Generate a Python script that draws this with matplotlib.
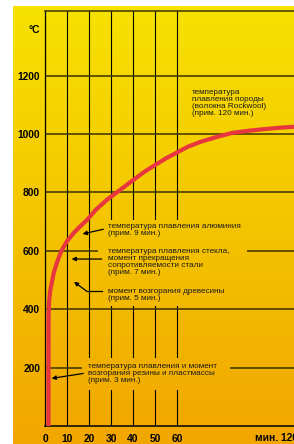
import numpy as np
import matplotlib
matplotlib.use('Agg')
import matplotlib.pyplot as plt
from matplotlib.patches import Rectangle
import matplotlib.transforms as mtransforms

# ---- data ----
time_min = [1.6, 1.6, 1.65, 1.9, 2.4, 3.0, 4.0, 5.3, 6.5, 7.6, 10, 12.9, 16, 19,
            23, 28, 34, 40, 45, 50, 55, 60.5, 65, 70.5, 78, 85, 93, 101, 107, 113, 120]
temp_c = [0, 200, 380, 430, 465, 488, 525, 557, 582, 602, 633, 660, 684, 705,
          740, 774, 808, 842, 870, 894, 917, 939, 957, 973, 990, 1004, 1012, 1018,
          1022, 1025, 1028]

x_ticks = [0, 10, 20, 30, 40, 50, 60]
x_tick_labels = ['0', '10', '20', '30', '40', '50', '60']
y_ticks = [200, 400, 600, 800, 1000, 1200]
y_tick_labels = ['200', '400', '600', '800', '1000', '1200']
y_unit = '°C'
x_unit = 'мин. 120'

notes = [
    'температура\nплавления породы\n(волокна Rockwool)\n(прим. 120 мин.)',
    'температура плавления алюминия\n(прим. 9 мин.)',
    'температура плавления стекла,\nмомент прекращения\nсопротивляемости стали\n(прим. 7 мин.)',
    'момент возгорания древесины\n(прим. 5 мин.)',
    'температура плавления и момент\nвозгорания резины и пластмассы\n(прим. 3 мин.)',
]
note_pos = [(66.7, 1153), (28.6, 697), (28.6, 611), (28.6, 474), (19.5, 217)]

# ---- figure ----
W, H, DPI = 294, 444, 100
fig = plt.figure(figsize=(W / DPI, H / DPI), dpi=DPI)
fig.patch.set_facecolor('white')

top_col = np.array([247, 226, 0]) / 255
bot_col = np.array([241, 166, 0]) / 255
grad_top_px, grad_bot_px = 7, 444

def grad_colors(py):
    f = np.clip((py - grad_top_px) / (grad_bot_px - grad_top_px), 0, 1)[:, None]
    return top_col[None, :] * (1 - f) + bot_col[None, :] * f

# background
bg = fig.add_axes([0, 0, 1, 1], zorder=-1)
bg.set_xlim(0, W)
bg.set_ylim(H, 0)
bg.axis('off')
py = np.arange(grad_top_px, grad_bot_px) + 0.5
img = grad_colors(py)[:, None, :]
bg.imshow(img, extent=(13, W, grad_bot_px, grad_top_px), aspect='auto',
          interpolation='bilinear')

# main axes
ax_left_px, ax_top_px, ax_bot_px = 45, 11, 426
px_per_min = 2.2
x_max = (W - ax_left_px) / px_per_min
px_per_deg = 0.2919
y_max = (ax_bot_px - ax_top_px) / px_per_deg
ax = fig.add_axes([ax_left_px / W, (H - ax_bot_px) / H,
                   1 - ax_left_px / W, (ax_bot_px - ax_top_px) / H])
ax.set_facecolor('none')
ax.set_xlim(0, x_max)
ax.set_ylim(0, y_max)

ax.set_xticks(x_ticks)
ax.set_xticklabels(x_tick_labels)
ax.set_yticks(y_ticks)
ax.set_yticklabels(y_tick_labels)
ax.tick_params(length=0, labelsize=7.4, pad=3.6)
for lab in ax.get_xticklabels() + ax.get_yticklabels():
    lab.set_fontweight('bold')
    lab.set_family('Liberation Sans')
ax.tick_params(axis='x', pad=5.5)

ax.set_axisbelow(True)
ax.xaxis.grid(True, color='black', lw=0.8)
ax.yaxis.grid(True, color='#3c3100', lw=1.1)

ax.spines['right'].set_visible(False)
ax.spines['left'].set_color('black')
ax.spines['left'].set_linewidth(0.9)
ax.spines['bottom'].set_color('black')
ax.spines['bottom'].set_linewidth(1.1)
ax.spines['top'].set_color('#3c3100')
ax.spines['top'].set_linewidth(1.1)

# masks that clear the grid behind the annotation blocks
mask_py = np.arange(ax_top_px, ax_bot_px) + 0.5
mask_img = grad_colors(mask_py)[:, None, :]
def px2data(x, y):
    return (x - ax_left_px) / px_per_min, (ax_bot_px - y) / px_per_deg
for (x0, y0, x1, y1) in [(98, 220, 247, 306), (82, 358, 230, 390)]:
    dx0, dy1 = px2data(x0, y0)
    dx1, dy0 = px2data(x1, y1)
    im = ax.imshow(mask_img, extent=(0, x_max, 0, y_max), aspect='auto',
                   interpolation='bilinear', zorder=1)
    r = Rectangle((dx0, dy0), dx1 - dx0, dy1 - dy0, transform=ax.transData)
    im.set_clip_path(r)
ax.set_xlim(0, x_max)
ax.set_ylim(0, y_max)

# curve
ax.plot(time_min, temp_c, color='#E8363F', lw=3.0, zorder=3,
        solid_capstyle='butt', clip_on=True)

# notes
for txt, (tx, ty) in zip(notes, note_pos):
    ax.text(tx, ty, txt, ha='left', va='top', fontsize=5.9, linespacing=1.0,
            family='Liberation Sans', color='#1a1a1a', zorder=4)

arrow_kw = dict(arrowstyle='-|>', color='black', lw=0.9, mutation_scale=6,
                shrinkA=0, shrinkB=0)
arrows = [((26.5, 674), (17.1, 658)),
          ((25.8, 572), (12.1, 572)),
          ((18.9, 462), (13.2, 494)),
          ((17.4, 180), (3.0, 163))]
for tail, tip in arrows:
    ax.annotate('', xy=tip, xytext=tail, arrowprops=arrow_kw, zorder=5)
ax.plot([25.8, 18.9], [462, 462], color='black', lw=0.9, zorder=5)

# units
ax.text(-0.02, 1356, y_unit, transform=mtransforms.blended_transform_factory(
        ax.transAxes, ax.transData), ha='right', va='center', fontsize=7.4,
        fontweight='bold', family='Liberation Sans')
fig.text(255 / W, 1 - 438 / H, x_unit, ha='left', va='center', fontsize=7.4,
         fontweight='bold', family='Liberation Sans')

fig.savefig('out.png', dpi=DPI)
